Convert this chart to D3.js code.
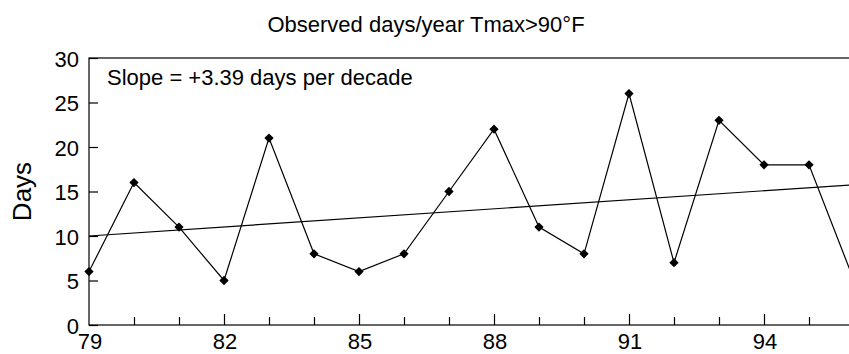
<!DOCTYPE html>
<html>
<head>
<meta charset="utf-8">
<script src="https://cdn.jsdelivr.net/npm/d3@7"></script>
<style>
  body { margin: 0; background: #fff; }
  text { font-family: "Liberation Sans", Arial, sans-serif; fill: #000; }
</style>
</head>
<body>
<div id="chart"></div>
<script>
const years = [79, 80, 81, 82, 83, 84, 85, 86, 87, 88, 89, 90, 91, 92, 93, 94, 95, 96]
const days = [6, 16, 11, 5, 21, 8, 6, 8, 15, 22, 11, 8, 26, 7, 23, 18, 18, 5]
const yTicks = [0, 5, 10, 15, 20, 25, 30]
const xLabels = [79, 82, 85, 88, 91, 94]
// fitted trend: value at 79 and slope per year
const trendStart = 10.0
const trendSlope = 0.339

const width = 849
const height = 354
const margin = { top: 58, left: 89, bottom: 29 }
const plotRight = 89 + 17 * 45

const svg = d3.select("#chart").append("svg")
    .attr("width", width)
    .attr("height", height)

const x = d3.scaleLinear().domain([79, 96]).range([margin.left, plotRight])
const y = d3.scaleLinear().domain([0, 30]).range([height - margin.bottom, margin.top])

// frame
svg.append("rect")
    .attr("x", x(79)).attr("y", y(30))
    .attr("width", x(96) - x(79)).attr("height", y(0) - y(30))
    .attr("fill", "none").attr("stroke", "#000").attr("stroke-width", 1.2)

// y axis, ticks pointing inward
const yAxis = svg.append("g")
    .attr("transform", `translate(${x(79)},0)`)
    .call(d3.axisRight(y).tickValues(yTicks).tickSize(9).tickFormat(""))
yAxis.select(".domain").remove()
yAxis.selectAll("line").attr("stroke-width", 1.2)

svg.append("g").selectAll("text")
    .data(yTicks)
    .join("text")
      .attr("x", x(79) - 10)
      .attr("y", d => y(d) + 1)
      .attr("dy", "0.36em")
      .attr("text-anchor", "end")
      .style("font-size", "22px")
      .text(d => d)

// x axis, minor every year, major every 3
const xAxis = svg.append("g")
    .attr("transform", `translate(0,${y(0)})`)
    .call(d3.axisTop(x).tickValues(years.slice(1)).tickSize(8).tickFormat(""))
xAxis.select(".domain").remove()
xAxis.selectAll(".tick line")
    .attr("y2", d => xLabels.includes(d) ? -11 : -8)
    .attr("stroke-width", 1.2)

svg.append("g").selectAll("text")
    .data(xLabels)
    .join("text")
      .attr("x", d => x(d) + 1)
      .attr("y", y(0) + 24)
      .attr("text-anchor", "middle")
      .style("font-size", "22px")
      .text(d => d)

// trend line
svg.append("line")
    .attr("x1", x(79)).attr("y1", y(trendStart))
    .attr("x2", x(96)).attr("y2", y(trendStart + trendSlope * 17))
    .attr("stroke", "#000").attr("stroke-width", 1.2)

// data line + diamonds
const line = d3.line().x((d, i) => x(years[i])).y(d => y(d))
svg.append("path")
    .datum(days)
    .attr("d", line)
    .attr("fill", "none")
    .attr("stroke", "#000")
    .attr("stroke-width", 1.2)

svg.append("g").selectAll("path")
    .data(days)
    .join("path")
      .attr("transform", (d, i) => `translate(${x(years[i])},${y(d)})`)
      .attr("d", d3.symbol(d3.symbolDiamond2, 55))
      .attr("fill", "#000")

// texts
svg.append("text")
    .attr("x", 426).attr("y", 32)
    .attr("text-anchor", "middle")
    .style("font-size", "22px")
    .text("Observed days/year Tmax>90°F")

svg.append("text")
    .attr("x", 107).attr("y", 85)
    .style("font-size", "22px")
    .text("Slope = +3.39 days per decade")

svg.append("text")
    .attr("transform", `translate(31,${(y(0) + y(30)) / 2}) rotate(-90)`)
    .attr("text-anchor", "middle")
    .style("font-size", "26px")
    .text("Days")
</script>
</body>
</html>
